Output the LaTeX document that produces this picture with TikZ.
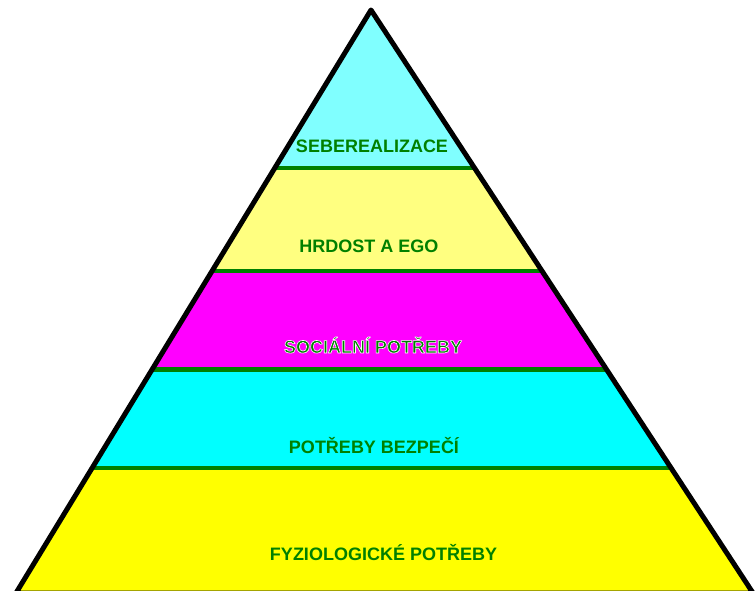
\documentclass[tikz,border=0pt]{standalone}
\usepackage{fontspec}
\setmainfont{Liberation Sans}
\definecolor{lblgreen}{RGB}{0,128,0}
\definecolor{bandA}{RGB}{128,255,255}
\definecolor{bandB}{RGB}{255,255,128}
\definecolor{bandC}{RGB}{255,0,255}
\definecolor{bandD}{RGB}{0,255,255}
\definecolor{bandE}{RGB}{255,255,0}
\newcommand{\halotext}[1]{\special{pdf:literal direct 2 Tr 0.6 w 1 1 1 RG}#1\special{pdf:literal direct 0 Tr}}
\begin{document}
\begin{tikzpicture}[x=1pt,y=-1pt,
  lbl/.style={font=\bfseries\fontsize{18}{20}\selectfont, text=lblgreen, inner sep=0pt},
  sepline/.style={draw=lblgreen, line width=4.5pt},
  outline/.style={draw=black, line width=5pt, line join=round}]
\useasboundingbox (0,0) rectangle (755,591);
\coordinate (A) at (371,10);
\coordinate (L) at (16,593);
\coordinate (R) at (753,593);
\begin{scope}
  \clip (A) -- (L) -- (R) -- cycle;
  \fill[bandA] (0,0) rectangle (755,168);
  \fill[bandB] (0,168) rectangle (755,271);
  \fill[bandC] (0,271) rectangle (755,369.5);
  \fill[bandD] (0,369.5) rectangle (755,468);
  \fill[bandE] (0,468) rectangle (755,600);
  \coordinate (s1l) at (0,168);   \coordinate (s1r) at (755,168);
  \coordinate (s2l) at (0,271);   \coordinate (s2r) at (755,271);
  \coordinate (s3l) at (0,369.5); \coordinate (s3r) at (755,369.5);
  \coordinate (s4l) at (0,468);   \coordinate (s4r) at (755,468);
  \draw[sepline] (s1l) -- (s1r);
  \draw[sepline] (s2l) -- (s2r);
  \draw[sepline] (s3l) -- (s3r);
  \draw[sepline] (s4l) -- (s4r);
\end{scope}
\draw[outline] (A) -- (L) -- (R) -- cycle;
\node[lbl] (t1) at (372,146) {SEBEREALIZACE};
\node[lbl] (t2) at (369,246) {HRDOST A EGO};
\node[lbl] (t3) at (373,345) {\halotext{SOCIÁLNÍ POTŘEBY}};
\node[lbl] (t4) at (374,446) {POTŘEBY BEZPEČÍ};
\node[lbl] (t5) at (383.5,553) {FYZIOLOGICKÉ POTŘEBY};
\end{tikzpicture}
\end{document}
